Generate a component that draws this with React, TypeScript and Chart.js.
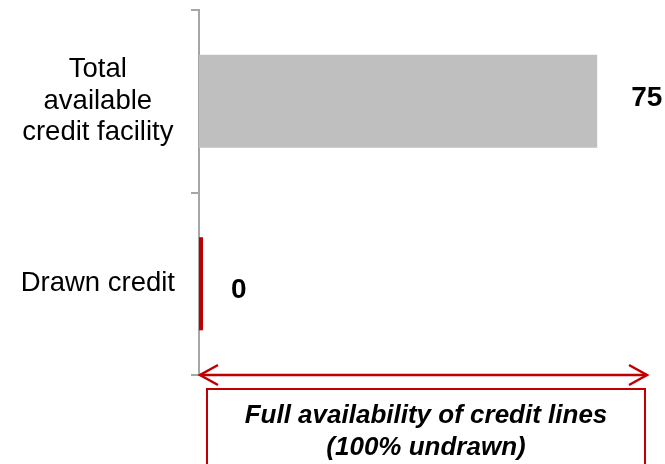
import React, { useEffect, useRef } from "react";
import { Chart, registerables } from "chart.js";

Chart.register(...registerables);

const categories: string[][] = [["Total", "available", "credit facility"], ["Drawn credit"]];
const values: number[] = [75, 0];
const barColors: string[] = ["#BFBFBF", "#C00000"];
const valueLabels: string[] = ["75", "0"];
const noteLines: string[] = ["Full availability of credit lines", "(100% undrawn)"];
const xMax = 84;

const FONT = '"Liberation Sans", Arial, sans-serif';

const valueLabelPlugin = {
  id: "valueLabels",
  afterDatasetsDraw(chart: any) {
    const ctx = chart.ctx;
    const meta = chart.getDatasetMeta(0);
    const dx = [34, 28];
    const dy = [5, 14];
    ctx.save();
    ctx.font = "bold 28px " + FONT;
    ctx.fillStyle = "#000000";
    ctx.textAlign = "left";
    ctx.textBaseline = "alphabetic";
    meta.data.forEach((bar: any, i: number) => {
      ctx.fillText(valueLabels[i], bar.x + dx[i], bar.y + dy[i]);
    });
    ctx.restore();
  },
};

const notePlugin = {
  id: "note",
  afterDraw(chart: any) {
    const ctx = chart.ctx;
    const a = chart.chartArea;
    const red = "#C00000";
    const y = a.bottom;
    const x1 = a.left + 1;
    const x2 = a.right + 2;
    ctx.save();
    ctx.strokeStyle = red;
    ctx.lineWidth = 2.5;
    ctx.lineCap = "butt";
    ctx.beginPath();
    ctx.moveTo(x1, y);
    ctx.lineTo(x2, y);
    ctx.stroke();
    ctx.beginPath();
    ctx.moveTo(x1 + 18, y - 10);
    ctx.lineTo(x1, y);
    ctx.lineTo(x1 + 18, y + 10);
    ctx.moveTo(x2 - 18, y - 10);
    ctx.lineTo(x2, y);
    ctx.lineTo(x2 - 18, y + 10);
    ctx.stroke();
    // box
    const bx = a.left + 8;
    const by = y + 14;
    const bw = a.right - bx;
    ctx.lineWidth = 2;
    ctx.strokeRect(bx, by, bw, 100);
    ctx.fillStyle = "#000000";
    ctx.font = "italic bold 26px " + FONT;
    ctx.textAlign = "center";
    ctx.textBaseline = "alphabetic";
    const cx = bx + bw / 2;
    ctx.fillText(noteLines[0], cx, by + 34);
    ctx.fillText(noteLines[1], cx, by + 66);
    ctx.restore();
  },
};

export default function App() {
  const ref = useRef<HTMLCanvasElement | null>(null);
  useEffect(() => {
    if (!ref.current) return;
    const chart = new Chart(ref.current, {
      type: "bar",
      data: {
        labels: categories as any,
        datasets: [
          {
            data: values,
            backgroundColor: barColors,
            borderWidth: 0,
            minBarLength: 4,
            barPercentage: 0.51,
            categoryPercentage: 1,
          },
        ],
      },
      options: {
        indexAxis: "y",
        responsive: false,
        animation: false,
        layout: { padding: { top: 10, bottom: 89, right: 20, left: 0 } },
        plugins: {
          legend: { display: false },
          tooltip: { enabled: false },
        },
        scales: {
          x: { display: false, min: 0, max: xMax },
          y: {
            afterFit: (s: any) => {
              s.width = 199;
              s.paddingTop = 0;
              s.paddingBottom = 0;
            },
            grid: {
              display: true,
              drawOnChartArea: false,
              drawTicks: true,
              tickLength: 8,
              offset: true,
              color: "#A6A6A6",
              lineWidth: 2,
            },
            border: { display: true, color: "#A6A6A6", width: 2 },
            ticks: {
              crossAlign: "center",
              padding: 16,
              color: "#000000",
              font: { family: FONT, size: 27.5, lineHeight: 1.15 },
            },
          },
        },
      },
      plugins: [valueLabelPlugin, notePlugin],
    } as any);
    return () => chart.destroy();
  }, []);
  return (
    <div style={{ position: "absolute", left: 0, top: 0, width: 665, height: 464, background: "#fff" }}>
      <canvas ref={ref} width={665} height={464} />
    </div>
  );
}
